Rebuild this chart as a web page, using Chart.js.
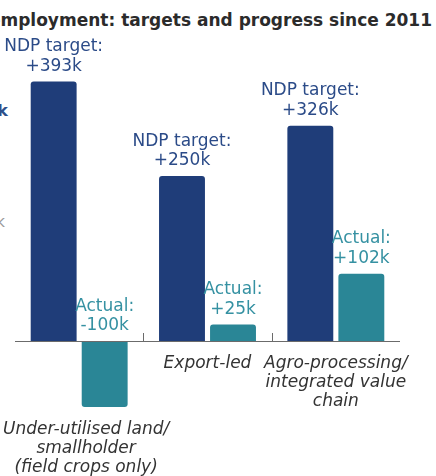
<!DOCTYPE html>
<html lang="en">
<head>
  <meta charset="UTF-8">
  <title>Employment: targets and progress since 2011</title>
  <script src="https://cdn.jsdelivr.net/npm/chart.js"></script>
  <style>
    html, body {
      margin: 0;
      padding: 0;
      background: #fff;
      overflow: hidden;
    }
    #wrap {
      position: relative;
      width: 436px;
      height: 476px;
      overflow: hidden;
      font-family: "DejaVu Sans", Verdana, sans-serif;
    }
    #title {
      position: absolute;
      right: 4px;
      top: 10px;
      white-space: nowrap;
      font-weight: bold;
      font-size: 17px;
      color: #2b2b2b;
    }
    .cut {
      position: absolute;
      white-space: nowrap;
    }
    #cut1 { right: 428px; top: 101px; font-size: 16px; font-weight: bold; color: #2e4f8a; }
    #cut2 { right: 431px; top: 213px; font-size: 15px; color: #9a9a9a; }
    #chart {
      position: absolute;
      left: 0;
      top: 0;
    }
  </style>
</head>

<body>
  <div id="wrap">
    <div id="title">Agricultural employment: targets and progress since 2011</div>
    <div class="cut" id="cut1">350k</div>
    <div class="cut" id="cut2">200k</div>
    <canvas id="chart" width="436" height="476"></canvas>
  </div>

  <script>
    // Job numbers in thousands
    const categories = [
      ['Under-utilised land/', 'smallholder', '(field crops only)'],
      ['Export-led'],
      ['Agro-processing/', 'integrated value', 'chain']
    ];
    const targetJobs = [393, 250, 326];
    const actualJobs = [-100, 25, 102];

    const FONT = '"DejaVu Sans", Verdana, sans-serif';

    // Baseline, category separators, value labels and category names
    const annotate = {
      id: 'annotate',
      afterDatasetsDraw(chart) {
        const { ctx, chartArea, scales: { x, y } } = chart;
        const zero = y.getPixelForValue(0);
        ctx.save();

        ctx.strokeStyle = '#6b6b6b';
        ctx.lineWidth = 1;
        ctx.beginPath();
        ctx.moveTo(chartArea.left, Math.round(zero) + 0.5);
        ctx.lineTo(chartArea.right, Math.round(zero) + 0.5);
        for (let i = 1; i < categories.length; i++) {
          const sx = Math.round((x.getPixelForValue(i - 1) + x.getPixelForValue(i)) / 2) + 0.5;
          ctx.moveTo(sx, Math.round(zero));
          ctx.lineTo(sx, Math.round(zero) - 8);
        }
        ctx.stroke();

        ctx.textAlign = 'center';
        ctx.textBaseline = 'alphabetic';
        ctx.font = '17px ' + FONT;
        chart.data.datasets.forEach((ds, di) => {
          chart.getDatasetMeta(di).data.forEach((bar, i) => {
            const v = ds.data[i];
            const base = (v >= 0 ? bar.y : zero) - 11;
            ctx.fillStyle = ds.labelColor;
            ctx.fillText(ds.prefix, bar.x, base - 19.5);
            ctx.fillText((v > 0 ? '+' : '') + v + 'k', bar.x, base);
          });
        });

        // category names sit under the lowest bar, kept inside the canvas
        ctx.font = 'italic 17px ' + FONT;
        ctx.fillStyle = '#333';
        categories.forEach((lines, i) => {
          const low = Math.min(0, ...chart.data.datasets.map(d => d.data[i]));
          const top = y.getPixelForValue(low) + 27;
          const widest = Math.max(...lines.map(l => ctx.measureText(l).width));
          const cx = Math.max(x.getPixelForValue(i), 3 + widest / 2);
          lines.forEach((line, li) => {
            ctx.fillText(line, cx, top + li * 19);
          });
        });

        ctx.restore();
      }
    };

    new Chart(document.getElementById('chart'), {
      type: 'bar',
      data: {
        labels: categories.map(c => c.join(' ')),
        datasets: [{
          label: 'NDP target',
          prefix: 'NDP target:',
          labelColor: '#2b4b88',
          data: targetJobs,
          backgroundColor: '#1f3d79',
          borderRadius: 3,
          categoryPercentage: 0.795,
          barPercentage: 0.9
        }, {
          label: 'Actual',
          prefix: 'Actual:',
          labelColor: '#3591a2',
          data: actualJobs,
          backgroundColor: '#2a8696',
          borderRadius: 3,
          categoryPercentage: 0.795,
          barPercentage: 0.9
        }]
      },
      options: {
        responsive: false,
        animation: false,
        layout: {
          padding: { left: 15, right: 36, top: 44, bottom: 69 }
        },
        scales: {
          x: { display: false },
          y: { display: false, min: -100, max: 450 }
        },
        plugins: {
          legend: { display: false },
          tooltip: { enabled: false }
        }
      },
      plugins: [annotate]
    });
  </script>
</body>
</html>
